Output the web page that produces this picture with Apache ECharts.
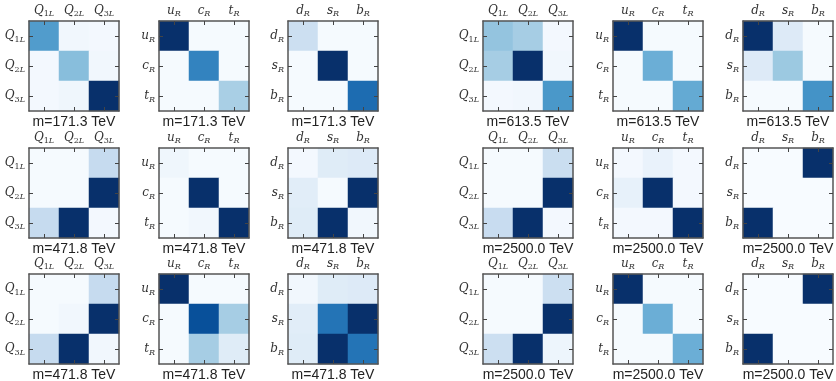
<!DOCTYPE html>
<html>
<head>
<meta charset="utf-8">
<script src="https://cdn.jsdelivr.net/npm/echarts@6/dist/echarts.min.js"></script>
<style>
  html, body { margin: 0; padding: 0; background: #fff; }
  #chart { width: 836px; height: 381px; }
</style>
</head>
<body>
<div id="chart"></div>
<script>
// axis labels for the three flavour blocks
const labelsQ = ['Q1L', 'Q2L', 'Q3L'];
const labelsU = ['uR', 'cR', 'tR'];
const labelsD = ['dR', 'sR', 'bR'];

// panel captions (m values), row-major, 6 panels per row
const masses = [
  '171.3', '171.3', '171.3', '613.5', '613.5', '613.5',
  '471.8', '471.8', '471.8', '2500.0', '2500.0', '2500.0',
  '471.8', '471.8', '471.8', '2500.0', '2500.0', '2500.0',
];

// normalised |matrix| values, rows top->bottom, cols left->right
const q171 = [[0.58, 0.03, 0.02], [0.02, 0.43, 0.03], [0.02, 0.04, 1.00]];
const u171 = [[1.00, 0.01, 0.01], [0.01, 0.68, 0.01], [0.01, 0.01, 0.34]];
const d171 = [[0.22, 0.01, 0.01], [0.01, 1.00, 0.01], [0.01, 0.01, 0.77]];
const q613 = [[0.40, 0.35, 0.02], [0.35, 1.00, 0.03], [0.02, 0.03, 0.60]];
const u613 = [[1.00, 0.01, 0.01], [0.01, 0.50, 0.01], [0.01, 0.01, 0.52]];
const d613 = [[1.00, 0.13, 0.01], [0.13, 0.38, 0.01], [0.01, 0.01, 0.62]];

const q471a = [[0.01, 0.01, 0.25], [0.01, 0.01, 1.00], [0.25, 1.00, 0.02]];
const u471a = [[0.04, 0.01, 0.01], [0.01, 1.00, 0.01], [0.01, 0.03, 1.00]];
const d471a = [[0.02, 0.12, 0.13], [0.11, 0.01, 1.00], [0.12, 1.00, 0.03]];
const q2500a = [[0.01, 0.01, 0.23], [0.01, 0.01, 1.00], [0.24, 1.00, 0.02]];
const u2500a = [[0.02, 0.07, 0.02], [0.08, 1.00, 0.02], [0.02, 0.02, 1.00]];
const d2500a = [[0.00, 0.00, 1.00], [0.00, 0.00, 0.00], [1.00, 0.00, 0.00]];

const q471b = [[0.01, 0.01, 0.25], [0.01, 0.03, 1.00], [0.25, 1.00, 0.03]];
const u471b = [[1.00, 0.01, 0.01], [0.01, 0.88, 0.35], [0.01, 0.35, 0.12]];
const d471b = [[0.03, 0.12, 0.13], [0.11, 0.74, 1.00], [0.12, 1.00, 0.74]];
const q2500b = [[0.01, 0.01, 0.22], [0.01, 0.01, 1.00], [0.22, 1.00, 0.05]];
const u2500b = [[1.00, 0.01, 0.01], [0.01, 0.50, 0.01], [0.01, 0.01, 0.50]];
const d2500b = [[0.00, 0.00, 1.00], [0.00, 0.00, 0.00], [1.00, 0.00, 0.00]];

const matrices = [
  q171, u171, d171, q613, u613, d613,
  q471a, u471a, d471a, q2500a, u2500a, d2500a,
  q471b, u471b, d471b, q2500b, u2500b, d2500b,
];
const panelLabels = [labelsQ, labelsU, labelsD];

// matplotlib "Blues"
const blues = ['#f7fbff', '#deebf7', '#c6dbef', '#9ecae1', '#6baed6',
               '#4292c6', '#2171b5', '#08519c', '#08306b'];

const colLefts = [29, 159, 288, 483, 613, 743];
const rowTops = [21, 148, 274];
const SIZE = 90;

function mathLabel(v) {
  const main = v[0];
  const rest = v.slice(1);
  const digits = rest.replace(/\D/g, '');
  const letters = rest.replace(/\d/g, '');
  return '{m|' + main + '}' + (digits ? '{d|' + digits + '}' : '') + '{s|' + letters + '}';
}

const rich = {
  m: { fontFamily: 'DejaVu Serif', fontStyle: 'italic', fontSize: 12, lineHeight: 15, color: '#333' },
  d: { fontFamily: 'DejaVu Serif', fontSize: 8, lineHeight: 9, verticalAlign: 'bottom', color: '#333' },
  s: { fontFamily: 'DejaVu Serif', fontStyle: 'italic', fontSize: 8, lineHeight: 9, verticalAlign: 'bottom', color: '#333' },
};

const frameLine = { show: true, lineStyle: { color: '#555', width: 1.5 } };
const tick = { show: true, inside: true, length: 4, alignWithLabel: true, interval: 0, lineStyle: { color: '#444', width: 1 } };

const grid = [], xAxis = [], yAxis = [], series = [], title = [];

matrices.forEach((mat, i) => {
  const r = Math.floor(i / 6), c = i % 6;
  const labels = panelLabels[c % 3];
  const left = colLefts[c], top = rowTops[r];
  grid.push({ left: left, top: top, width: SIZE, height: SIZE });

  xAxis.push({
    type: 'category', gridIndex: i, data: labels, position: 'top', z: 10,
    axisLine: frameLine, axisTick: tick,
    axisLabel: { margin: 3, interval: 0, hideOverlap: false, formatter: mathLabel, rich: rich },
    splitLine: { show: false },
  });
  xAxis.push({
    type: 'category', gridIndex: i, data: labels, position: 'bottom', z: 10,
    axisLine: frameLine, axisTick: tick, axisLabel: { show: false },
    splitLine: { show: false },
  });
  yAxis.push({
    type: 'category', gridIndex: i, data: labels, inverse: true, position: 'left', z: 10,
    axisLine: frameLine, axisTick: tick,
    axisLabel: { margin: 4, interval: 0, hideOverlap: false, formatter: mathLabel, rich: rich },
    splitLine: { show: false },
  });
  yAxis.push({
    type: 'category', gridIndex: i, data: labels, inverse: true, position: 'right', z: 10,
    axisLine: frameLine, axisTick: tick, axisLabel: { show: false },
    splitLine: { show: false },
  });

  const data = [];
  mat.forEach((row, y) => row.forEach((v, x) => data.push([x, y, v])));
  series.push({
    type: 'heatmap', xAxisIndex: 2 * i, yAxisIndex: 2 * i, data: data,
    itemStyle: { borderWidth: 0 },
    emphasis: { disabled: true },
  });

  title.push({
    text: 'm=' + masses[i] + ' TeV',
    left: left + SIZE / 2, top: top + SIZE + 4, textAlign: 'center',
    textStyle: { fontFamily: 'Liberation Sans', fontSize: 14, fontWeight: 'normal', color: '#222' },
    padding: 0,
  });
});

const chart = echarts.init(document.getElementById('chart'));
chart.setOption({
  animation: false,
  backgroundColor: '#fff',
  title: title,
  grid: grid,
  xAxis: xAxis,
  yAxis: yAxis,
  visualMap: {
    type: 'continuous', show: false, min: 0, max: 1,
    seriesIndex: series.map((_, i) => i),
    inRange: { color: blues },
  },
  series: series,
});
</script>
</body>
</html>
